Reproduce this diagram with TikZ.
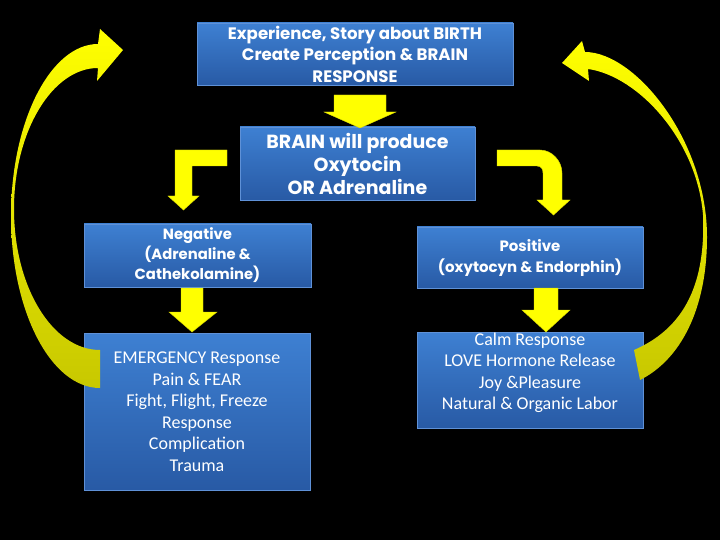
\documentclass[tikz,border=0pt]{standalone}
\usepackage{fontspec}
\setmainfont{Carlito}
\newfontfamily\hfont{Poppins}
\definecolor{boxtop}{RGB}{62,128,210}
\definecolor{boxbot}{RGB}{40,90,165}
\definecolor{boxline}{RGB}{95,145,215}
\definecolor{arrowY}{RGB}{255,255,0}
\definecolor{arrowD}{RGB}{200,200,0}
\tikzset{
  box/.style={draw=boxline, line width=0.6pt, top color=boxtop, bottom color=boxbot,
    inner sep=0pt, text=white, align=center},
  hdr/.style={font=\hfont\bfseries\fontsize{16.6}{21.5}\selectfont},
  bodytxt/.style={font=\fontsize{18}{21.5}\selectfont, text=white, align=center},
  blockarrow/.style={fill=arrowY, draw={rgb,255:red,215;green,215;blue,0}, line width=0.4pt},
  curvedarrow/.style={top color=arrowY, bottom color=arrowD}
}
\begin{document}
\begin{tikzpicture}[x=1pt,y=-1pt]
\useasboundingbox (0,0) rectangle (720,540);
\fill[black] (0,0) rectangle (720,540);

% boxes
\node[box, hdr, minimum width=316pt, minimum height=62pt] (top) at (355,54)
  {Experience, Story about BIRTH\\Create Perception \& BRAIN\\RESPONSE};
\node[box, hdr, font=\hfont\bfseries\fontsize{19}{23}\selectfont, minimum width=235pt, minimum height=73pt] (brain) at (357.5,163.5)
  {BRAIN will produce\\Oxytocin\\OR Adrenaline};
\node[box, hdr, font=\hfont\bfseries\fontsize{14.8}{20}\selectfont, minimum width=227pt, minimum height=63pt] (neg) at (197.5,255.5)
  {Negative\\(Adrenaline \&\\Cathekolamine)};
\node[box, hdr, font=\hfont\bfseries\fontsize{15}{21}\selectfont, minimum width=226pt, minimum height=61pt] (pos) at (530,257.5)
  {Positive\\(oxytocyn \& Endorphin)};
\node[box, bodytxt, minimum width=226pt, minimum height=157pt] (emerg) at (197,411.5)
  {EMERGENCY Response\\Pain \& FEAR\\Fight, Flight, Freeze\\Response\\Complication\\Trauma};
\node[box, minimum width=226pt, minimum height=96pt] (calm) at (530,380) {};
\node[bodytxt, inner sep=0pt] (calmtxt) at (530,373)
  {Calm Response\\LOVE Hormone Release\\Joy \&Pleasure\\Natural \& Organic Labor};

% straight down arrows
\path[blockarrow] (334,95) -- (386,95) -- (386,112) -- (396,112) -- (360,128) -- (324,112) -- (334,112) -- cycle;
\path[blockarrow] (181,288) -- (203,288) -- (203,312) -- (217,312) -- (192,332) -- (169,312) -- (181,312) -- cycle;
\path[blockarrow] (534,288) -- (558,288) -- (558,310) -- (570,310) -- (546,332) -- (522,310) -- (534,310) -- cycle;

% left bent arrow (sharp corner)
\path[blockarrow] (227,150) -- (175,150) -- (175,196) -- (168,196) -- (183.5,210) -- (199,196) -- (192,196) -- (192,166) -- (227,166) -- cycle;

% right bent arrow (rounded corner)
\path[blockarrow] (497,150) -- (540,150) .. controls (552,150) and (562,161) .. (562,173)
  -- (562,200) -- (570,200) -- (553.5,215) -- (537,200) -- (543,200) -- (543,173)
  .. controls (543,169) and (541,166) .. (537,166) -- (497,166) -- cycle;

% left curved arrow
\shade[curvedarrow] (100,388) .. controls (50.8,388) and (11,311) .. (11,216)
  .. controls (11,121) and (50.8,44) .. (98,44)
  -- (100,29) -- (123,50) -- (97,81) -- (98,68)
  .. controls (52.5,68) and (14,131) .. (14,209)
  .. controls (14,287) and (52.5,350) .. (100,350) -- cycle;

% right curved arrow
\shade[curvedarrow] (640,380) .. controls (680,360) and (707,310) .. (707,237)
  .. controls (707,140) and (635,52) .. (585,52)
  -- (582,41) -- (562,63) -- (589,81) -- (588,69)
  .. controls (638,76) and (697,140) .. (703,215)
  .. controls (706,290) and (680,330) .. (634,350) -- cycle;
\end{tikzpicture}
\end{document}
